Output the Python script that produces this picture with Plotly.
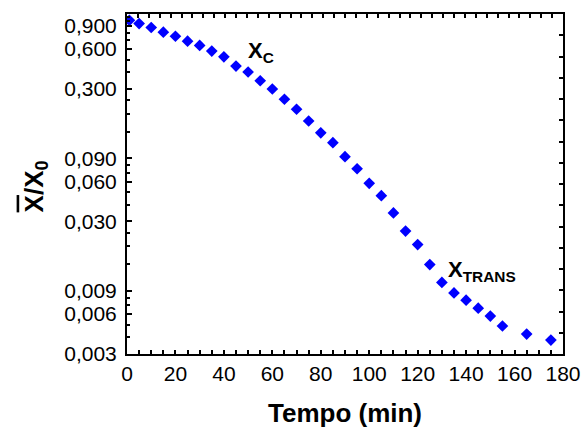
import math
import plotly.graph_objects as go

# ---- data ----
tempo = [1, 5, 10, 15, 20, 25, 30, 35, 40, 45, 50, 55, 60, 65, 70, 75, 80, 85,
         90, 95, 100, 105, 110, 115, 120, 125, 130, 135, 140, 145, 150, 155, 165, 175]
razao = [0.99, 0.935, 0.873, 0.805, 0.75, 0.689, 0.64, 0.58, 0.525, 0.447, 0.403,
         0.346, 0.30, 0.251, 0.211, 0.172, 0.14, 0.118, 0.0925, 0.075, 0.0582,
         0.047, 0.0348, 0.0254, 0.0201, 0.0142, 0.0104, 0.00867, 0.00764, 0.00665,
         0.0058, 0.00488, 0.00424, 0.00382]

y_tickvals = [0.003, 0.006, 0.009, 0.03, 0.06, 0.09, 0.3, 0.6, 0.9]
y_ticktext = ["0,003", "0,006", "0,009", "0,030", "0,060", "0,090", "0,300", "0,600", "0,900"]
x_tickvals = [0, 20, 40, 60, 80, 100, 120, 140, 160, 180]

# minor ticks on the log axis: linear subdivisions between labelled values
minor_y = []
for a, b in zip(y_tickvals[:-1], y_tickvals[1:]):
    n = 3 if b / a < 2.5 else 4
    for k in range(1, n):
        minor_y.append(a + (b - a) * k / n)
minor_y += [0.975, 1.05]

FONT = "Liberation Sans, Arial, sans-serif"

fig = go.Figure()
fig.add_trace(go.Scatter(
    x=tempo, y=razao, mode="markers",
    marker=dict(symbol="diamond", size=9, color="#0000FF", line=dict(width=0)),
    showlegend=False, hoverinfo="skip",
))
# transparent helper trace so the secondary (tick-only) axes are drawn
fig.add_trace(go.Scatter(x=[20], y=[8], xaxis="x2", yaxis="y2", mode="markers",
                         marker=dict(opacity=0), showlegend=False, hoverinfo="skip"))

fig.update_layout(
    width=584, height=428,
    margin=dict(l=127, r=21, t=14, b=74),
    paper_bgcolor="white", plot_bgcolor="white",
    font=dict(family=FONT, color="black", size=20),
    xaxis=dict(
        range=[0, 180], tickvals=x_tickvals, ticks="inside", ticklen=4, tickwidth=2,
        tickcolor="black", showline=True, linewidth=2, linecolor="black", mirror=True,
        showgrid=False, zeroline=False, tickfont=dict(size=21), automargin=False,
        minor=dict(dtick=5, ticks="inside", ticklen=4, tickwidth=2, tickcolor="black", showgrid=False),
        title=dict(text="<b>Tempo (min)</b>", font=dict(size=26), standoff=21),
    ),
    yaxis=dict(
        type="log", range=[math.log10(0.003), 0.043],
        tickvals=y_tickvals, ticktext=y_ticktext, ticks="inside", ticklen=5, tickwidth=2,
        tickcolor="black", showline=True, linewidth=2, linecolor="black", mirror=True,
        showgrid=False, zeroline=False, tickfont=dict(size=21), ticklabelstandoff=4,
        automargin=False,
        minor=dict(tickvals=minor_y, ticks="inside", ticklen=3, tickwidth=2, tickcolor="black", showgrid=False),
    ),
    xaxis2=dict(
        overlaying="x", side="top", anchor="y", range=[0, 40], dtick=1,
        ticks="inside", ticklen=4, tickwidth=2, tickcolor="black", automargin=False,
        showticklabels=False, showgrid=False, zeroline=False, showline=False,
    ),
    yaxis2=dict(
        overlaying="y", side="right", anchor="x", range=[0, 16], dtick=1,
        ticks="inside", ticklen=4, tickwidth=2, tickcolor="black", automargin=False,
        showticklabels=False, showgrid=False, zeroline=False, showline=False,
    ),
    annotations=[
        dict(x=-0.211, y=0.493, xref="paper", yref="paper", textangle=-90,
             text="<b><span style='text-decoration:overline'>X</span>/X<sub>0</sub></b>",
             showarrow=False, font=dict(size=26), xanchor="center", yanchor="middle"),
        dict(x=49.0, y=-0.24, xref="x", yref="y", xanchor="left", yanchor="middle",
             text="<b>X<sub>C</sub></b>", showarrow=False, font=dict(size=22)),
        dict(x=131.5, y=-1.90, xref="x", yref="y", xanchor="left", yanchor="middle",
             text="<b>X<sub>TRANS</sub></b>", showarrow=False, font=dict(size=22)),
    ],
)

fig.write_html("out.html", config={"displayModeBar": False},
               post_script="document.body.style.margin='0';")
